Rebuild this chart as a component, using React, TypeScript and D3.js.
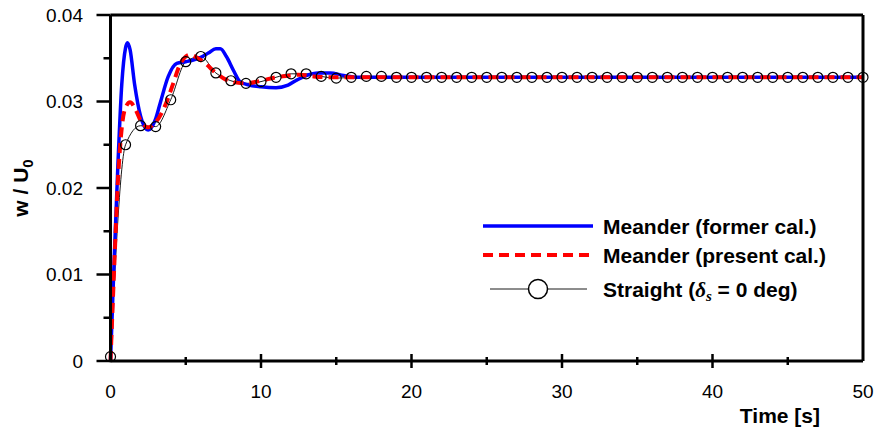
import * as d3 from 'd3';

// former calculation (meander)
const formerTime = [0, 0.25, 0.5, 0.75, 1.0, 1.12, 1.3, 1.6, 2.0, 2.5, 3.0, 3.3, 3.84, 4.4, 5.0, 5.5, 6.0, 6.5, 7.0, 7.3, 7.7, 8.2, 8.6, 9.2, 10.0, 11.0, 11.8, 12.4, 13.0, 13.8, 14.6, 15.5, 16.5, 18, 25, 35, 50];
const formerValue = [0, 0.012, 0.023, 0.032, 0.0362, 0.0368, 0.036, 0.032, 0.0283, 0.0267, 0.028, 0.0298, 0.0329, 0.0344, 0.0346, 0.0348, 0.0351, 0.0356, 0.0361, 0.0361, 0.0352, 0.0335, 0.0323, 0.0319, 0.0317, 0.0316, 0.0319, 0.0325, 0.033, 0.0333, 0.0333, 0.033, 0.0328, 0.0328, 0.0328, 0.0328, 0.0328];

// present calculation (meander)
const presentTime = [0, 0.25, 0.5, 0.75, 1.0, 1.3, 1.6, 2.0, 2.5, 3.0, 3.6, 4.17, 4.6, 5.0, 5.3, 5.8, 6.3, 7.0, 7.5, 8.0, 9.0, 10.0, 11.0, 12.0, 12.5, 13.5, 14.6, 18, 25, 35, 50];
const presentValue = [0, 0.011, 0.021, 0.027, 0.0293, 0.0299, 0.0293, 0.0278, 0.027, 0.0276, 0.0294, 0.0321, 0.0342, 0.0352, 0.0354, 0.035, 0.0344, 0.0333, 0.0327, 0.0323, 0.0321, 0.0324, 0.0328, 0.033, 0.0331, 0.0329, 0.0328, 0.0328, 0.0328, 0.0328, 0.0328];

// straight channel, one marker per second
const straightTime = [0, 1, 2, 3, 4, 5, 6, 7, 8, 9, 10, 11, 12, 13, 14, 15, 16, 17, 18, 19, 20, 21, 22, 23, 24, 25, 26, 27, 28, 29, 30, 31, 32, 33, 34, 35, 36, 37, 38, 39, 40, 41, 42, 43, 44, 45, 46, 47, 48, 49, 50];
const straightValue = [0.0005, 0.025, 0.0272, 0.0271, 0.0302, 0.0346, 0.0352, 0.0333, 0.0324, 0.0321, 0.0323, 0.0328, 0.0332, 0.0332, 0.0329, 0.0327, 0.0328, 0.0329, 0.0329, 0.0328, 0.0328, 0.0328, 0.0328, 0.0328, 0.0328, 0.0328, 0.0328, 0.0328, 0.0328, 0.0328, 0.0328, 0.0328, 0.0328, 0.0328, 0.0328, 0.0328, 0.0328, 0.0328, 0.0328, 0.0328, 0.0328, 0.0328, 0.0328, 0.0328, 0.0328, 0.0328, 0.0328, 0.0328, 0.0328, 0.0328, 0.0328];

const xMajor = [0, 10, 20, 30, 40, 50];
const xMinor = [5, 15, 25, 35, 45];
const yMajor = [0, 0.01, 0.02, 0.03, 0.04];
const yMinor = [0.005, 0.015, 0.025, 0.035];

const WIDTH = 874;
const HEIGHT = 432;
const FONT = 'Arial, "Liberation Sans", sans-serif';

const x = d3.scaleLinear().domain([0, 50]).range([110.5, 863]);
const y = d3.scaleLinear().domain([0, 0.04]).range([361, 15]);

const zip = (t: number[], v: number[]) => t.map((d, i) => [d, v[i]] as [number, number]);

const line = d3
  .line<[number, number]>()
  .x((d) => x(d[0]))
  .y((d) => y(d[1]))
  .curve(d3.curveMonotoneX);

export default function App() {
  const former = zip(formerTime, formerValue);
  const present = zip(presentTime, presentValue);
  const straight = zip(straightTime, straightValue);
  const [x0, x1] = x.range();
  const [y0, y1] = y.range();

  return (
    <div style={{ position: 'absolute', left: 0, top: 0 }}>
      <svg width={WIDTH} height={HEIGHT} style={{ display: 'block', background: '#fff' }} fontFamily={FONT}>
        {/* series */}
        <path d={line(straight) ?? ''} fill="none" stroke="#000" strokeWidth={0.9} />
        <path d={line(former) ?? ''} fill="none" stroke="#0000ff" strokeWidth={3.5} />
        <path d={line(present) ?? ''} fill="none" stroke="#ff0000" strokeWidth={4} strokeDasharray="10,6" />
        {straight.map((d, i) => (
          <circle key={i} cx={x(d[0])} cy={y(d[1])} r={5} fill="none" stroke="#000" strokeWidth={1.2} />
        ))}

        {/* frame */}
        <line x1={x0} x2={x1} y1={y1} y2={y1} stroke="#000" strokeWidth={3} />
        <line x1={x1} x2={x1} y1={y1} y2={y0} stroke="#000" strokeWidth={3} />
        <line x1={x0} x2={x1} y1={y0} y2={y0} stroke="#000" strokeWidth={3} />
        <line x1={x0} x2={x0} y1={y1} y2={y0} stroke="#000" strokeWidth={3} />

        {/* y axis ticks */}
        {yMajor.map((v) => (
          <g key={v}>
            <line x1={x0 - 14} x2={x0} y1={y(v)} y2={y(v)} stroke="#000" strokeWidth={2.5} />
            <text x={83} y={y(v)} dy="0.36em" textAnchor="end" fontSize={19}>
              {v === 0 ? '0' : d3.format('.2f')(v)}
            </text>
          </g>
        ))}
        {yMinor.map((v) => (
          <line key={v} x1={x0 - 7} x2={x0} y1={y(v)} y2={y(v)} stroke="#000" strokeWidth={2.5} />
        ))}

        {/* x axis ticks */}
        {xMajor.map((v) => (
          <g key={v}>
            {v > 0 && v < 50 && (
              <line x1={x(v)} x2={x(v)} y1={y0 - 7} y2={y0 + 7} stroke="#000" strokeWidth={2.5} />
            )}
            <text x={x(v)} y={398} textAnchor="middle" fontSize={19}>
              {v}
            </text>
          </g>
        ))}
        {xMinor.map((v) => (
          <line key={v} x1={x(v)} x2={x(v)} y1={y0 - 4} y2={y0 + 4} stroke="#000" strokeWidth={2.5} />
        ))}

        {/* axis titles */}
        <text x={820} y={423} textAnchor="end" fontSize={21} fontWeight="bold">
          Time [s]
        </text>
        <text transform="translate(28,188) rotate(-90)" textAnchor="middle" fontSize={21} fontWeight="bold">
          w / U<tspan dy={5} fontSize={15}>0</tspan>
        </text>

        {/* legend */}
        <g fontSize={21} fontWeight="bold">
          <line x1={483} x2={593} y1={226} y2={226} stroke="#0000ff" strokeWidth={3.5} />
          <text x={603} y={226} dy="0.36em">Meander (former cal.)</text>
          <line x1={483} x2={593} y1={255} y2={255} stroke="#ff0000" strokeWidth={4} strokeDasharray="10,6" />
          <text x={603} y={255} dy="0.36em">Meander (present cal.)</text>
          <line x1={490} x2={587} y1={289} y2={289} stroke="#000" strokeWidth={0.9} />
          <circle cx={538} cy={289} r={9.5} fill="#fff" stroke="#000" strokeWidth={1.5} />
          <text x={603} y={289} dy="0.36em">
            Straight (
            <tspan fontFamily='"Liberation Serif", "Times New Roman", serif' fontStyle="italic">δ</tspan>
            <tspan fontFamily='"Liberation Serif", "Times New Roman", serif' fontStyle="italic" fontSize={15} dy={4}>s</tspan>
            <tspan dy={-4}> = 0 deg)</tspan>
          </text>
        </g>
      </svg>
    </div>
  );
}
